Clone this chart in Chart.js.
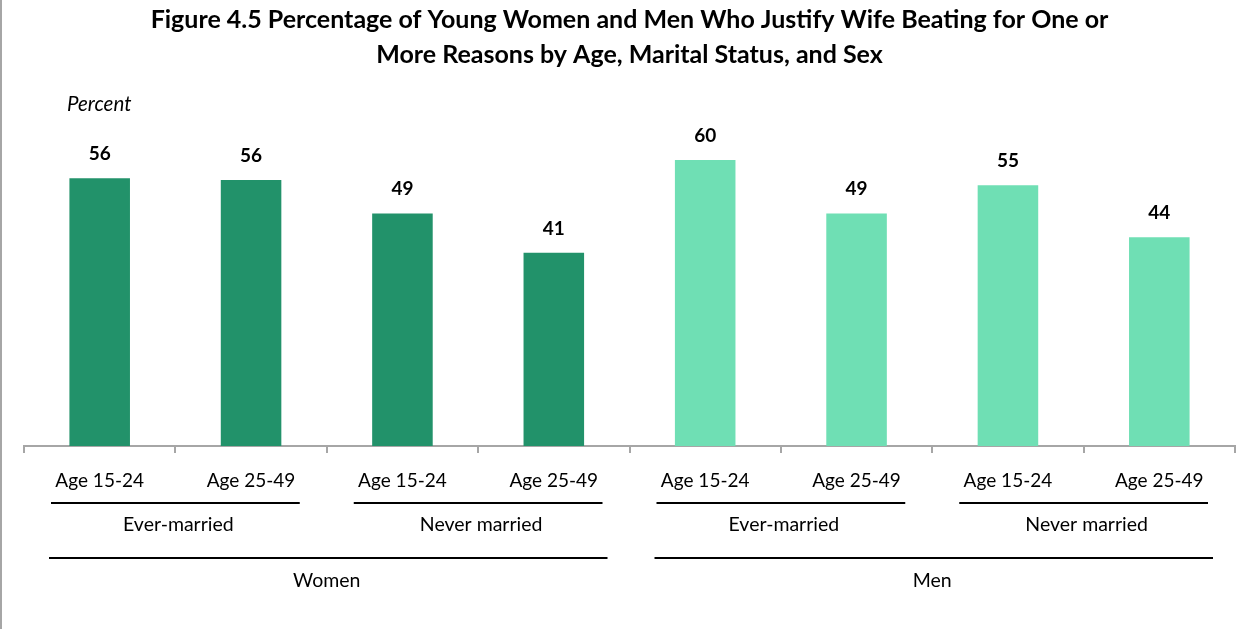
<!DOCTYPE html>
<html>
<head>
<meta charset="utf-8">
<script src="https://cdn.jsdelivr.net/npm/chart.js@4.4.1/dist/chart.umd.min.js"></script>
<style>
  body { margin: 0; background: #fff; }
  #wrap { width: 1245px; height: 629px; border-left: 2px solid #a6a6a6; }
</style>
</head>
<body>
<div id="wrap"><canvas id="myChart" width="1245" height="629"></canvas></div>
<script>
// data
const categories = ['Age 15-24', 'Age 25-49', 'Age 15-24', 'Age 25-49',
                    'Age 15-24', 'Age 25-49', 'Age 15-24', 'Age 25-49'];
const values = [56.3, 55.9, 48.9, 40.6, 60.1, 48.9, 54.8, 43.9];
const maritalGroups = ['Ever-married', 'Never married', 'Ever-married', 'Never married'];
const sexGroups = ['Women', 'Men'];

const womenColor = '#22926a';
const menColor = '#6fdfb4';
const barColors = values.map((v, i) => i < 4 ? womenColor : menColor);

const labelFont = '19.5px Lato, "Open Sans", sans-serif';

// value labels above the bars
const valueLabels = {
    id: 'valueLabels',
    afterDatasetsDraw(chart) {
        const ctx = chart.ctx;
        const meta = chart.getDatasetMeta(0);
        ctx.save();
        ctx.fillStyle = '#000';
        ctx.font = 'bold 19px Lato, "Open Sans", sans-serif';
        ctx.textAlign = 'center';
        ctx.textBaseline = 'alphabetic';
        meta.data.forEach((bar, i) => {
            ctx.fillText(Math.round(values[i]), bar.x, bar.y - 18);
        });
        ctx.restore();
    }
};

// multi-level category labels + "Percent"
const groupLabels = {
    id: 'groupLabels',
    afterDraw(chart) {
        const ctx = chart.ctx;
        const x = chart.scales.x;
        const bottom = chart.chartArea.bottom;
        const step = x.width / categories.length;
        ctx.save();
        ctx.fillStyle = '#000';
        ctx.strokeStyle = '#000';
        ctx.lineWidth = 2;
        ctx.font = labelFont;
        ctx.textAlign = 'center';
        ctx.textBaseline = 'middle';

        maritalGroups.forEach((name, g) => {
            const left = x.getPixelForValue(g * 2) - step / 2;
            const right = x.getPixelForValue(g * 2 + 1) + step / 2;
            ctx.beginPath();
            ctx.moveTo(left + 27, bottom + 57);
            ctx.lineTo(right - 27, bottom + 57);
            ctx.stroke();
            ctx.fillText(name, (left + right) / 2 + 3, bottom + 79);
        });

        sexGroups.forEach((name, g) => {
            const left = x.getPixelForValue(g * 4) - step / 2;
            const right = x.getPixelForValue(g * 4 + 3) + step / 2;
            ctx.beginPath();
            ctx.moveTo(left + 25, bottom + 112);
            ctx.lineTo(right - 22, bottom + 112);
            ctx.stroke();
            ctx.fillText(name, (left + right) / 2, bottom + 135);
        });

        ctx.font = 'italic 20.5px Lato, "Open Sans", sans-serif';
        ctx.textAlign = 'left';
        ctx.fillText('Percent', 65, 104);
        ctx.restore();
    }
};

const ctx = document.getElementById('myChart').getContext('2d');
const myChart = new Chart(ctx, {
    type: 'bar',
    data: {
        labels: categories,
        datasets: [{
            data: values,
            backgroundColor: barColors,
            borderWidth: 0,
            barPercentage: 0.4,
            categoryPercentage: 1
        }]
    },
    options: {
        responsive: false,
        animation: false,
        layout: { padding: { left: 22, right: 12, top: 0, bottom: 0 } },
        plugins: {
            legend: { display: false },
            tooltip: { enabled: false },
            title: {
                display: true,
                text: ['Figure 4.5 Percentage of Young Women and Men Who Justify Wife Beating for One or',
                       'More Reasons by Age, Marital Status, and Sex'],
                color: '#000',
                font: { family: 'Lato, "Open Sans", sans-serif', size: 25, weight: 'bold', lineHeight: 1.4 },
                padding: { top: 2, bottom: 41 }
            }
        },
        scales: {
            x: {
                grid: {
                    display: true,
                    drawOnChartArea: false,
                    drawTicks: true,
                    tickLength: 7,
                    color: '#a6a6a6',
                    lineWidth: 2,
                    offset: true
                },
                border: { display: true, color: '#a6a6a6', width: 2 },
                ticks: {
                    color: '#000',
                    font: { family: 'Lato, "Open Sans", sans-serif', size: 19 },
                    padding: 16,
                    maxRotation: 0,
                    autoSkip: false
                },
                afterFit(scale) { scale.height = 183; }
            },
            y: {
                display: false,
                min: 0,
                max: 70
            }
        }
    },
    plugins: [valueLabels, groupLabels]
});
</script>
</body>
</html>
